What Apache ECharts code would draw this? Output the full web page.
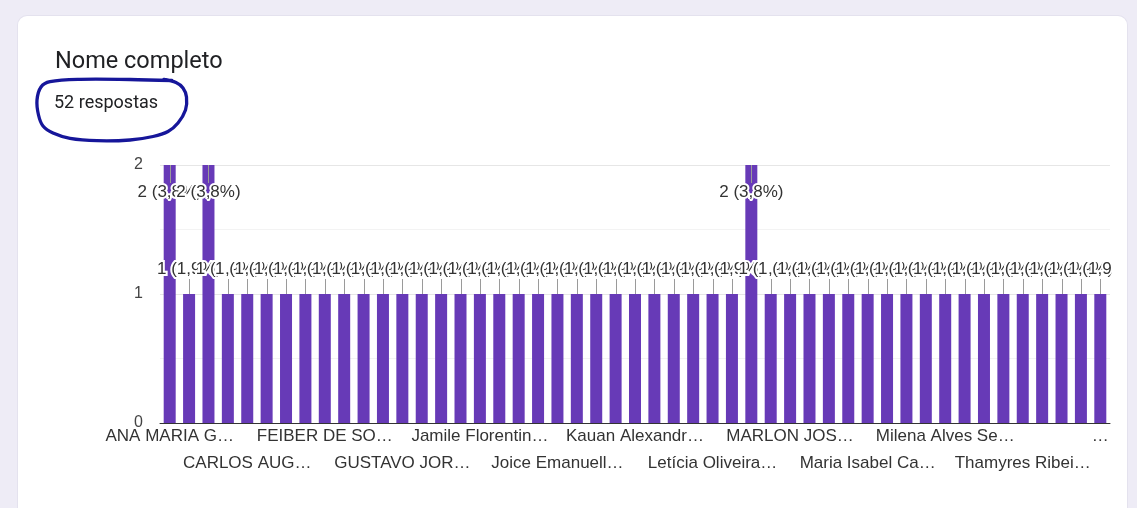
<!DOCTYPE html>
<html><head><meta charset="utf-8">
<script src="https://cdn.jsdelivr.net/npm/echarts@6/dist/echarts.min.js"></script>
<style>
html,body{margin:0;padding:0;width:1137px;height:508px;overflow:hidden;background:#eeecf6;}
#card{position:absolute;left:18px;top:16px;width:1109px;height:530px;background:#fff;border-radius:9px;box-shadow:0 0 0 1px #e4e2ee;}
#chart{position:absolute;left:0;top:0;width:1112px;height:508px;}
</style></head><body>
<div id="card"></div><div id="chart"></div>
<script>
const chartTitle = "Nome completo";
const responsesText = "52 respostas";
// names: only every 4th one is legible in the picture; the others are placeholders
const categories = [
  "ANA MARIA G…", "(nome 2)", "(nome 3)", "(nome 4)",
  "CARLOS AUG…", "(nome 6)", "(nome 7)", "(nome 8)",
  "FEIBER DE SO…", "(nome 10)", "(nome 11)", "(nome 12)",
  "GUSTAVO JOR…", "(nome 14)", "(nome 15)", "(nome 16)",
  "Jamile Florentin…", "(nome 18)", "(nome 19)", "(nome 20)",
  "Joice Emanuell…", "(nome 22)", "(nome 23)", "(nome 24)",
  "Kauan Alexandr…", "(nome 26)", "(nome 27)", "(nome 28)",
  "Letícia Oliveira…", "(nome 30)", "(nome 31)", "(nome 32)",
  "MARLON JOS…", "(nome 34)", "(nome 35)", "(nome 36)",
  "Maria Isabel Ca…", "(nome 38)", "(nome 39)", "(nome 40)",
  "Milena Alves Se…", "(nome 42)", "(nome 43)", "(nome 44)",
  "Thamyres Ribei…", "(nome 46)", "(nome 47)", "(nome 48)",
  "…"
];
const counts = [
  2, 1, 2, 1, 1, 1, 1, 1, 1, 1,
  1, 1, 1, 1, 1, 1, 1, 1, 1, 1,
  1, 1, 1, 1, 1, 1, 1, 1, 1, 1,
  2, 1, 1, 1, 1, 1, 1, 1, 1, 1,
  1, 1, 1, 1, 1, 1, 1, 1, 1
];
const yMin = 0, yMax = 2, yStep = 1;

const total = counts.reduce((a, b) => a + b, 0);
function labelText(v) {
  return v + ' (' + (v / total * 100).toFixed(1).replace('.', ',') + '%)';
}
const FONT = '"Liberation Sans", Arial, sans-serif';

function catAxis(show, rowOffset, margin) {
  return {
    type: 'category',
    data: categories,
    position: 'bottom',
    offset: 0,
    axisTick: {show: false},
    axisLine: {show: show, lineStyle: {color: '#333', width: 1}},
    axisLabel: {
      interval: function (i) { return i % 8 === rowOffset; },
      margin: margin, fontSize: 17, lineHeight: 20, color: '#333', fontFamily: FONT,
      showMinLabel: true, showMaxLabel: true, hideOverlap: false
    },
    splitLine: {show: false}
  };
}

const chart = echarts.init(document.getElementById('chart'), null, {renderer: 'canvas'});
chart.setOption({
  animation: false,
  backgroundColor: 'transparent',
  graphic: [
    {type: 'text', x: 55, y: 62, silent: true,
     style: {text: chartTitle, font: '400 23.5px Roboto', fill: '#202124', verticalAlign: 'middle'}},
    {type: 'text', x: 54, y: 103, silent: true,
     style: {text: responsesText, font: '400 18px Roboto', fill: '#202124', verticalAlign: 'middle'}},
    {type: 'polyline', silent: true, z: 100,
     shape: {smooth: 0.35, points: [
       [172, 80.5], [130, 79.5], [80, 79.3], [50, 81.7], [41, 87], [37, 100], [38.5, 115],
       [43, 126], [53, 133], [70, 138.3], [97, 140.7], [130, 140], [153, 136.5], [168, 131.5],
       [178, 123], [185.5, 110], [186.5, 97], [183, 88], [176, 82.5], [164, 79.5]
     ]},
     style: {stroke: '#16169a', lineWidth: 3.3, fill: null, lineJoin: 'round', lineCap: 'round'}}
  ],
  grid: {left: 160, right: 2, top: 165, bottom: 85, outerBoundsMode: 'none', containLabel: false},
  xAxis: [catAxis(true, 0, 3), catAxis(false, 4, 30)],
  yAxis: {
    type: 'value', min: yMin, max: yMax, interval: yStep,
    axisLine: {show: false}, axisTick: {show: false},
    axisLabel: {fontSize: 16, color: '#444', margin: 17, fontFamily: FONT},
    splitLine: {show: true, lineStyle: {color: '#e6e6e6', width: 1}},
    minorTick: {show: false, splitNumber: 2},
    minorSplitLine: {show: true, lineStyle: {color: '#f3f3f3', width: 1}}
  },
  series: [
    {
      type: 'bar', xAxisIndex: 0, data: counts, barWidth: 12, silent: true,
      itemStyle: {color: '#673ab7'}
    },
    {
      type: 'custom', xAxisIndex: 0, z: 10, silent: true,
      data: counts.map((v, i) => [i, v]),
      renderItem: function (params, api) {
        const i = api.value(0), v = api.value(1);
        const p = api.coord([i, v]);
        const cs = params.coordSys;
        const txt = labelText(v);
        let ty, y1, y2;
        if (p[1] - 33 < cs.y) { ty = p[1] + 27; y1 = p[1]; y2 = ty - 9; }
        else { ty = p[1] - 25; y1 = ty + 10; y2 = p[1]; }
        const x = Math.round(p[0]) + 0.5;
        return {type: 'group', children: [
          {type: 'line', shape: {x1: x, y1: y1, x2: x, y2: y2}, style: {stroke: '#9a9a9a', lineWidth: 1}},
          {type: 'text', style: {text: txt, x: p[0], y: ty, align: 'center', verticalAlign: 'middle',
            font: '17px ' + FONT, fill: null, stroke: '#fff', lineWidth: 4, lineJoin: 'round'}},
          {type: 'text', style: {text: txt, x: p[0], y: ty, align: 'center', verticalAlign: 'middle',
            font: '17px ' + FONT, fill: '#333'}}
        ]};
      }
    }
  ]
});
</script>
</body></html>
